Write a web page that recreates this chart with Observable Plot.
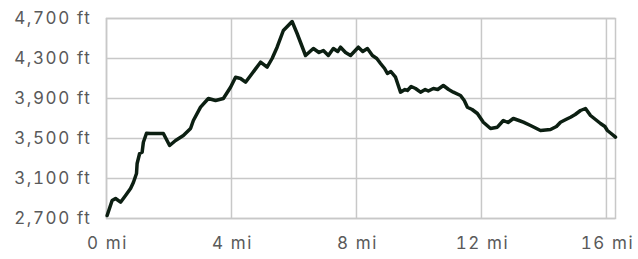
<!DOCTYPE html>
<html>
<head>
<meta charset="utf-8">
<script src="https://cdn.jsdelivr.net/npm/d3@7"></script>
<script src="https://cdn.jsdelivr.net/npm/@observablehq/plot@0.6"></script>
<style>
  html, body { margin: 0; padding: 0; background: #fff; }
  svg text { letter-spacing: 1.6px; }
</style>
</head>
<body>
<div id="chart"></div>
<script>
const miles = [0.02,0.18,0.29,0.45,0.61,0.77,0.86,0.96,0.98,1.06,1.14,1.18,1.28,1.41,1.82,2.02,2.21,2.46,2.69,2.78,3.01,3.26,3.49,3.74,3.97,4.13,4.29,4.45,4.66,4.93,5.14,5.30,5.46,5.66,5.94,6.10,6.37,6.62,6.80,6.94,7.10,7.26,7.40,7.49,7.65,7.81,8.06,8.20,8.35,8.51,8.65,8.77,8.90,8.99,9.10,9.25,9.41,9.55,9.63,9.75,9.89,10.05,10.20,10.30,10.46,10.60,10.78,10.95,11.10,11.33,11.45,11.55,11.70,11.87,12.06,12.29,12.51,12.70,12.85,13.02,13.20,13.34,13.57,13.89,14.21,14.40,14.53,14.70,14.85,15.00,15.17,15.33,15.49,15.65,15.81,15.95,16.03,16.15,16.29];
const elevation = [2730,2880,2900,2863,2930,3000,3060,3150,3250,3350,3363,3463,3553,3550,3550,3430,3480,3530,3600,3680,3813,3900,3880,3900,4013,4113,4100,4063,4150,4263,4213,4300,4413,4580,4670,4550,4330,4400,4360,4380,4330,4400,4370,4413,4360,4330,4413,4370,4400,4330,4300,4250,4200,4150,4170,4113,3963,3990,3980,4020,4000,3963,3990,3975,4000,3990,4030,3990,3963,3930,3880,3813,3790,3750,3663,3600,3613,3680,3660,3700,3680,3663,3630,3580,3590,3620,3663,3690,3713,3740,3780,3800,3730,3690,3650,3620,3580,3550,3513];
const xTicks = [0, 4, 8, 12, 16];
const yTicks = [2700, 3100, 3500, 3900, 4300, 4700];

const data = miles.map((m, i) => ({mi: m, ft: elevation[i]}));
const fmt = d3.format(",");

const chart = Plot.plot({
  width: 638,
  height: 259,
  marginLeft: 106,
  marginRight: 23,
  marginTop: 18,
  marginBottom: 41,
  style: {fontFamily: "Inter, sans-serif", fontSize: "17px", color: "#5a5a5a", background: "#fff"},
  x: {domain: [0, 16.29]},
  y: {domain: [2700, 4700]},
  marks: [
    Plot.gridX(xTicks, {stroke: "#c8c8c8", strokeOpacity: 1, strokeWidth: 1.5}),
    Plot.gridY(yTicks, {stroke: "#c8c8c8", strokeOpacity: 1, strokeWidth: 1.5}),
    Plot.frame({stroke: "#c8c8c8", strokeWidth: 1.5}),
    Plot.axisX(xTicks, {tickSize: 0, tickPadding: 18, tickFormat: d => `${d} mi`, label: null, fill: "#5a5a5a", dx: 1}),
    Plot.axisY(yTicks, {tickSize: 0, tickPadding: 15, tickFormat: d => `${fmt(d)} ft`, label: null, fill: "#5a5a5a"}),
    Plot.line(data, {x: "mi", y: "ft", stroke: "#0c1f12", strokeWidth: 3.5, strokeLinejoin: "round", strokeLinecap: "round"})
  ]
});
document.getElementById("chart").appendChild(chart);
</script>
</body>
</html>
